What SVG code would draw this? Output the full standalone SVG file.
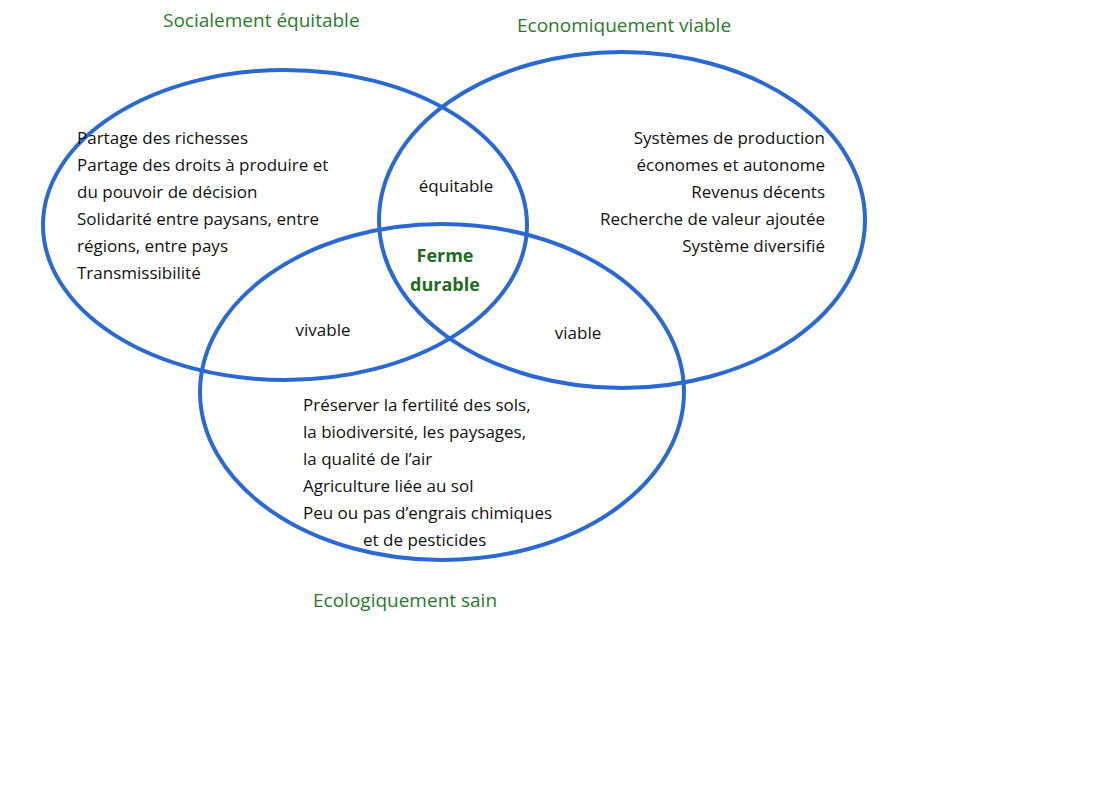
<svg xmlns="http://www.w3.org/2000/svg" width="1117" height="792" viewBox="0 0 1117 792">
<style>
.c{fill:none;stroke:#2a68d4;stroke-width:4}
text{font-family:"Open Sans","Noto Sans",sans-serif;font-size:17px;fill:#111}
.g{fill:#2a7a2a;font-size:19px}
.b{fill:#1f6b1f;font-weight:bold;font-size:18px}
.r{text-anchor:end}
.m{text-anchor:middle}
</style>
<rect width="1117" height="792" fill="#fff"/>
<g id="social"><ellipse class="c" cx="285" cy="225" rx="242" ry="155"/></g>
<g id="eco"><ellipse class="c" cx="622" cy="220" rx="243" ry="168"/></g>
<g id="ecolo"><ellipse class="c" cx="442" cy="392" rx="242" ry="168"/></g>
<g id="labels">
<text class="g" x="163" y="27">Socialement équitable</text>
<text class="g" x="517" y="32">Economiquement viable</text>
<text class="g" x="313" y="607">Ecologiquement sain</text>
<text x="77" y="144">Partage des richesses</text>
<text x="77" y="171">Partage des droits à produire et</text>
<text x="77" y="198">du pouvoir de décision</text>
<text x="77" y="225">Solidarité entre paysans, entre</text>
<text x="77" y="252">régions, entre pays</text>
<text x="77" y="279">Transmissibilité</text>
<text class="r" x="825" y="144">Systèmes de production</text>
<text class="r" x="825" y="171">économes et autonome</text>
<text class="r" x="825" y="198">Revenus décents</text>
<text class="r" x="825" y="225">Recherche de  valeur ajoutée</text>
<text class="r" x="825" y="252">Système diversifié</text>
<text x="303" y="411">Préserver la fertilité des sols,</text>
<text x="303" y="438">la biodiversité, les paysages,</text>
<text x="303" y="465">la qualité de l’air</text>
<text x="303" y="492">Agriculture liée au sol</text>
<text x="303" y="519">Peu ou pas d’engrais chimiques</text>
<text x="363" y="546">et de pesticides</text>
<text class="m" x="456" y="192">équitable</text>
<text class="m" x="323" y="336">vivable</text>
<text class="m" x="578" y="339">viable</text>
<text class="b m" x="445" y="262">Ferme</text>
<text class="b m" x="445" y="291">durable</text>
</g>
</svg>
